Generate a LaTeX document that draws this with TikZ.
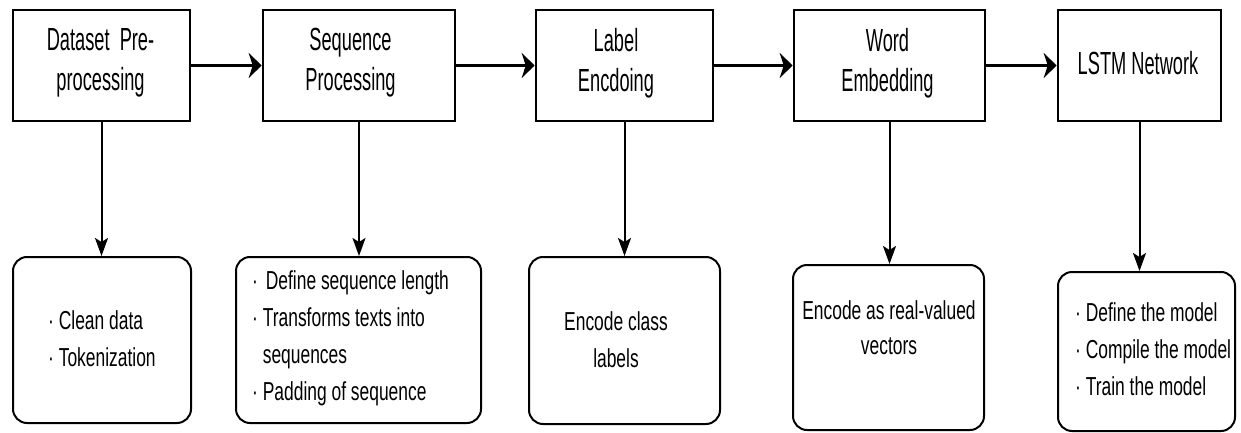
\documentclass[tikz,border=0pt]{standalone}
\usepackage{fontspec}
\setmainfont{Liberation Sans}
\newfontfamily\topfont{Liberation Sans}[FakeStretch=0.57]
\newfontfamily\botfont{Liberation Sans}[FakeStretch=0.67]
\usetikzlibrary{arrows.meta}
\newcommand{\mybul}{·\ }
\begin{document}
\begin{tikzpicture}[x=1pt,y=-1pt,
  stage/.style={draw, line width=2.6pt, minimum height=111pt, inner sep=0pt},
  task/.style={draw, line width=2pt, rounded corners=14pt, inner sep=0pt},
  toptext/.style={font=\topfont\fontsize{32}{40}\selectfont, align=center, inner sep=0pt},
  bottext/.style={font=\botfont\fontsize{26}{37}\selectfont, inner sep=0pt},
  flow/.style={line width=3pt, -{Stealth[length=13pt,width=25pt,inset=4pt]}},
  down/.style={line width=2pt, -{Stealth[length=18pt,width=13pt,inset=4pt]}}]
\useasboundingbox[fill=white] (0,0) rectangle (1241,433);

% top stage boxes
\node[stage, minimum width=177pt] (t1) at (101.5,65.5) {};
\node[stage, minimum width=192pt] (t2) at (359,65.5) {};
\node[stage, minimum width=177pt] (t3) at (624.5,65.5) {};
\node[stage, minimum width=191pt] (t4) at (889.5,65.5) {};
\node[stage, minimum width=163pt] (t5) at (1139.5,65.5) {};

\node[toptext] (l1) at (100.5,63) {Dataset~~Pre-\\processing};
\node[toptext] (l2) at (350.5,63) {Sequence\\Processing};
\node[toptext] (l3) at (616,63) {Label\\Encdoing};
\node[toptext] (l4) at (887.5,63) {Word\\Embedding};
\node[toptext] (l5) at (1138,63) {LSTM Network};

% bottom task boxes
\node[task, minimum width=178pt, minimum height=166pt] (b1) at (102,340) {};
\node[task, minimum width=245pt, minimum height=166pt] (b2) at (358.5,340) {};
\node[task, minimum width=191pt, minimum height=167pt] (b3) at (624.5,340.5) {};
\node[task, minimum width=191pt, minimum height=165pt] (b4) at (888.5,347.5) {};
\node[task, minimum width=177pt, minimum height=159pt] (b5) at (1146.5,351.5) {};

\node[bottext, align=left, anchor=west] (d1) at (48,339) {\mybul Clean data\\\mybul Tokenization};
\node[bottext, align=left, anchor=west] (d2) at (252,338.5) {\mybul\hspace{3pt}Define sequence length\\\mybul Transforms texts into\\\hphantom{\mybul}sequences\\\mybul Padding of sequence};
\node[bottext, align=center] (d3) at (616,339.5) {Encode class\\labels};
\node[bottext, align=center, font=\botfont\fontsize{26}{35}\selectfont] (d4) at (889,327.5) {Encode as real-valued\\vectors};
\node[bottext, align=left, anchor=west] (d5) at (1075,349.5) {\mybul Define the model\\\mybul Compile the model\\\mybul Train the model};

% horizontal flow
\draw[flow] (t1.east) -- (t2.west);
\draw[flow] (t2.east) -- (t3.west);
\draw[flow] (t3.east) -- (t4.west);
\draw[flow] (t4.east) -- (t5.west);

% vertical arrows
\draw[down] (t1.south) -- (t1.south |- b1.north);
\draw[down] (t2.south) -- (t2.south |- b2.north);
\draw[down] (t3.south) -- (t3.south |- b3.north);
\draw[down] (t4.south) -- (t4.south |- b4.north);
\draw[down] (t5.south) -- (t5.south |- b5.north);
\end{tikzpicture}
\end{document}
